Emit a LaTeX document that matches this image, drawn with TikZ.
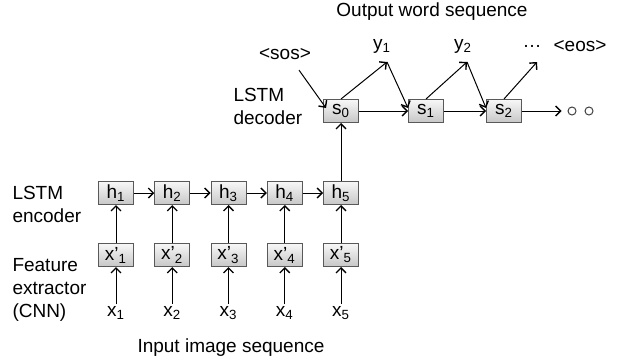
\documentclass[tikz,border=0pt]{standalone}
\usepackage{fontspec}
\setmainfont{Liberation Sans}
\usetikzlibrary{calc,arrows.meta}

\begin{document}
\begin{tikzpicture}[x=0.5pt,y=-0.5pt,line width=0.5pt,
    >={Straight Barb[length=2.5pt,width=5pt,line width=0.7pt]},
    every node/.style={font=\fontsize{9.5}{11.5}\selectfont},
    cell/.style={draw=black!65,top color=black!3,bottom color=black!22,minimum width=17.5pt,minimum height=11.5pt,inner sep=1pt},
    lbl/.style={inner sep=1pt},
    dot/.style={circle,draw=black!75,minimum size=4pt,inner sep=0pt},
    side/.style={align=left,anchor=west,inner sep=0pt}]

  %% Fix the size of the page
  \useasboundingbox (0,0) rectangle (621,364);

  %% Encoder: one column for each image
  \foreach \i in {1,...,5}{
    \pgfmathsetmacro\cx{116+56.25*(\i-1)}
    \node[cell] (h\i) at (\cx,193) {h\textsubscript{\i}};
    \node[cell] (xp\i) at (\cx,255) {x’\textsubscript{\i}};
    \node[lbl] (x\i) at (\cx,313) {x\textsubscript{\i}};
    \draw[->] (x\i) -- (xp\i);
    \draw[->] (xp\i) -- (h\i);
  }
  \foreach \i [count=\j from 2] in {1,...,4}{
    \draw[->] (h\i) -- (h\j);
  }

  %% Decoder
  \node[cell] (s0) at (341,111) {s\textsubscript{0}};
  \node[cell] (s1) at (426,111) {s\textsubscript{1}};
  \node[cell] (s2) at (504,111) {s\textsubscript{2}};
  \draw[->] (h5) -- (s0);
  \draw[->] (s0) -- (s1);
  \draw[->] (s1) -- (s2);

  %% Words out of the decoder
  \node[lbl] (sos) at (285,54) {<sos>};
  \node[lbl] (y1) at (382,46) {y\textsubscript{1}};
  \node[lbl] (y2) at (463,46) {y\textsubscript{2}};
  \node[lbl] (dots) at (532,46) {\dots};
  \node[lbl] (eos) at (580,46) {<eos>};
  \coordinate (t1) at (387,62);
  \coordinate (t2) at (467,62);
  \coordinate (t3) at (537,62);
  \draw[->] ([shift={(7pt,-4pt)}]sos.south) -- ([shift={(1.5pt,1.5pt)}]s0.west);
  \draw[->] (s0.north) -- (t1);
  \draw[->] (t1) -- ([yshift=1.5pt]s1.west);
  \draw[->] (s1.north) -- (t2);
  \draw[->] (t2) -- ([yshift=1.5pt]s2.west);
  \draw[->] (s2.north) -- (t3);

  %% And so on
  \node[dot] (c1) at (572,111) {};
  \node[dot] (c2) at (589,111) {};
  \draw[->] (s2) -- ([xshift=-3pt]c1.west);

  %% Labels
  \node[lbl] (outlbl) at (432,12) {Output word sequence};
  \node[lbl] (inlbl) at (231,348) {Input image sequence};
  \node[side] (dec) at (233,106) {LSTM\\decoder};
  \node[side] (enc) at (12,204) {LSTM\\encoder};
  \node[side] (feat) at (12,290) {Feature\\extractor\\(CNN)};

\end{tikzpicture}
\end{document}
